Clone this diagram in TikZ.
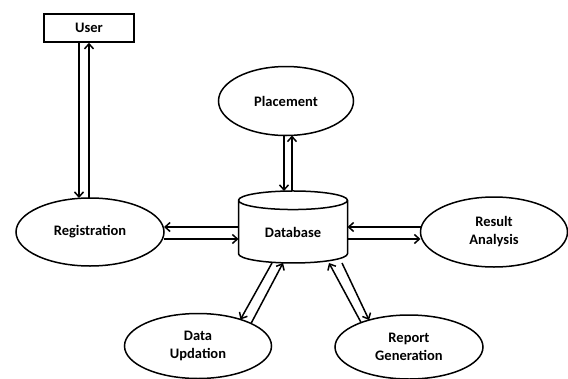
\documentclass[tikz,border=0pt]{standalone}
\usepackage{fontspec}
\setmainfont{Carlito}
\usetikzlibrary{
    positioning,
    arrows.meta,
    shapes.geometric
}

\begin{document}
\begin{tikzpicture}[x=1pt, y=-1pt, line width=1.5pt,
        >={Straight Barb[length=5pt, width=9pt]},
        lbl/.style={font=\fontsize{14.5}{18}\selectfont\bfseries, align=center},
        proc/.style={draw, ellipse, lbl, inner sep=0pt, outer sep=0pt}]
        \useasboundingbox (0,0) rectangle (568,378);
        \node[draw, lbl, minimum width=90pt, minimum height=28pt, inner sep=0pt] (user) at (89,28) {User};
        \node[proc, minimum width=148pt, minimum height=68pt] (reg) at (90,232) {Registration};
        \node[proc, minimum width=135pt, minimum height=69pt] (plac) at (286,101) {Placement};
        \node[proc, minimum width=147pt, minimum height=70pt] (res) at (494,232) {Result\\Analysis};
        \node[proc, minimum width=147pt, minimum height=65pt] (upd) at (198,346) {Data\\Updation};
        \node[proc, minimum width=148pt, minimum height=64pt] (rep) at (409,347) {Report\\Generation};
        \node[draw, lbl, cylinder, shape border rotate=90, aspect=0.33, inner sep=0pt, outer sep=0pt,
            minimum width=109pt, minimum height=72pt] (db) at (293,232) {Database};
        % user and registration
        \draw[->] ([xshift=-10pt]user.south) -- ([xshift=-10pt]user.south |- reg.north);
        \draw[<-] (user.south) -- (reg.north -| user.south);
        % placement
        \draw[->] ([xshift=-2pt]plac.south) -- ([xshift=-2pt]plac.south |- db.north);
        \draw[<-] ([xshift=6pt]plac.south) -- ([xshift=6pt]plac.south |- db.north);
        % registration and result analysis
        \draw[<-] ([yshift=5pt]reg.east) -- ([yshift=5pt]reg.east -| db.west);
        \draw[->] ([yshift=-7pt]reg.east) -- ([yshift=-7pt]reg.east -| db.west);
        \draw[<-] ([yshift=5pt]db.east) -- ([yshift=5pt]db.east -| res.west);
        \draw[->] ([yshift=-7pt]db.east) -- ([yshift=-7pt]db.east -| res.west);
        % data updation and report generation
        \draw[->] ([xshift=-21pt]db.south) -- (upd.32);
        \draw[->] (upd.23) -- ([xshift=-10pt]db.south);
        \draw[->] (rep.153) -- ([xshift=36pt]db.south);
        \draw[->] ([xshift=49pt]db.south) -- (rep.146);
    \end{tikzpicture}
\end{document}
